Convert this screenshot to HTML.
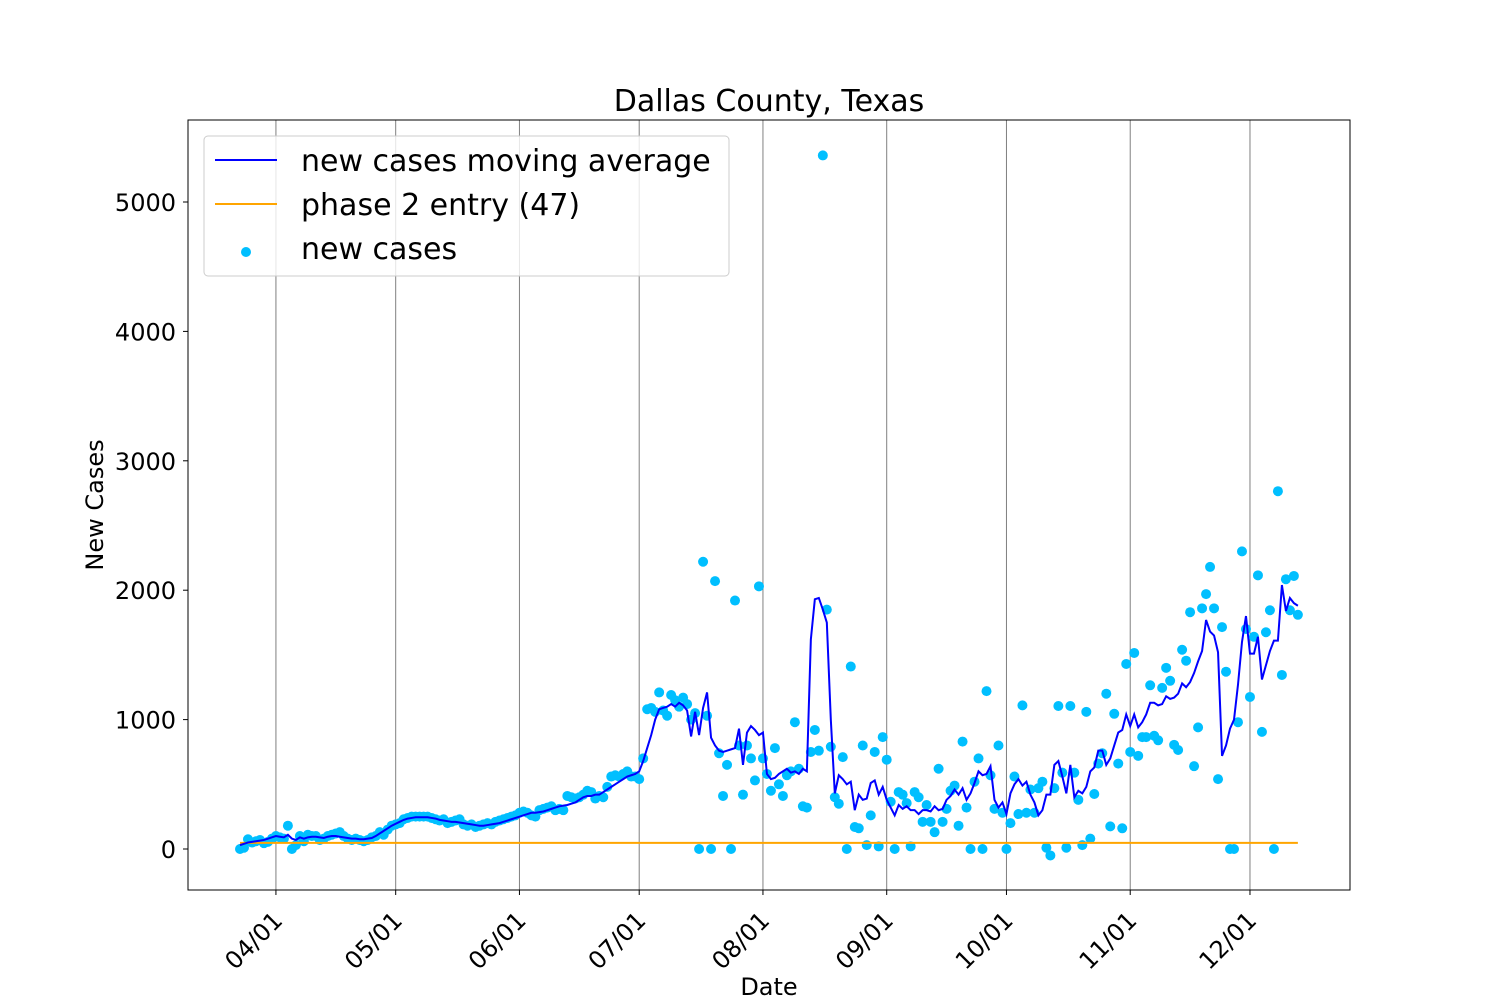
<!DOCTYPE html>
<html><head><meta charset="utf-8"><style>
body{margin:0;background:#fff;}
svg{display:block;font-family:"DejaVu Sans","Liberation Sans",sans-serif;}
</style></head><body>
<svg id="chart" width="1500" height="1000" xmlns="http://www.w3.org/2000/svg">
<rect x="0" y="0" width="1500" height="1000" fill="#fff"/>
<text x="769" y="111" font-size="30" text-anchor="middle">Dallas County, Texas</text>
<text transform="translate(103,505) rotate(-90)" font-size="24" text-anchor="middle">New Cases</text>
<text x="769" y="995" font-size="24" text-anchor="middle">Date</text>
<g id="grid"></g><g id="series"></g><g id="axes"></g>
<g>
<rect x="204" y="136" width="525" height="140" rx="4" fill="#fff" fill-opacity="0.8" stroke="#ccc"/>
<line x1="215" y1="160" x2="277" y2="160" stroke="#0000ff" stroke-width="2"/>
<text x="301" y="171" font-size="30">new cases moving average</text>
<line x1="215" y1="204" x2="277" y2="204" stroke="#ffa500" stroke-width="2"/>
<text x="301" y="215" font-size="30">phase 2 entry (47)</text>
<circle cx="246" cy="252" r="5" fill="#00bfff"/>
<text x="301" y="259" font-size="30">new cases</text>
</g>
</svg>
<script>
const tickLabels=["04/01","05/01","06/01","07/01","08/01","09/01","10/01","11/01","12/01"];
const tickDays=[9,39,70,100,131,162,192,223,253];
const yTicks=[0,1000,2000,3000,4000,5000];
const phase2=47;
const newCases=[0,10,75,50,60,70,45,55,80,
100,90,80,180,0,30,100,60,110,100,100,70,80,100,110,120,130,100,80,70,80,70,60,70,90,100,130,110,150,180,
190,200,230,240,250,250,250,250,250,240,230,220,230,200,210,220,230,190,180,190,170,180,190,200,190,210,220,230,240,250,260,
280,290,280,260,250,300,310,320,330,300,310,300,410,400,390,400,420,450,440,390,410,400,480,560,570,560,580,600,560,560,
540,700,1080,1090,1060,1210,1070,1030,1190,1150,1100,1170,1120,1000,1050,0,2220,1030,0,2070,740,410,650,0,1920,800,420,800,700,530,2030,
700,580,450,780,500,410,570,600,980,620,330,320,750,920,760,5360,1850,790,400,350,710,0,1410,170,160,800,30,260,750,20,
865,690,365,0,440,420,355,20,440,400,210,340,210,130,620,210,310,450,490,180,830,320,0,520,700,0,1220,570,310,800,280,0,
200,560,270,1110,280,460,280,470,520,10,-50,470,1105,590,10,1105,590,380,30,1060,80,425,660,740,1200,175,1045,660,160,1430,750,
1515,720,865,865,1265,875,840,1245,1400,1300,805,765,1540,1455,1830,640,940,1860,1970,2180,1860,540,1715,1370,0,0,980,2300,1700,1175,1640,2115,905,1675,1845,0,2765,1345,2085,1845,2110,1810];
const movingAvg=[30,40,50,55,60,65,70,80,90,
100,95,90,110,80,70,90,80,90,95,95,90,85,95,100,100,95,90,85,80,80,75,75,80,85,100,120,140,160,180,
195,210,225,235,240,245,245,245,245,240,235,225,220,215,210,210,205,200,195,190,185,180,180,185,190,195,200,210,220,230,240,
250,260,270,280,280,285,290,300,310,320,330,335,340,350,360,380,400,410,410,420,420,440,460,480,500,520,540,560,570,580,
600,680,780,880,1000,1080,1090,1100,1120,1100,1130,1110,1070,870,1060,880,1090,1210,860,800,760,750,760,770,780,930,650,900,950,920,880,
900,580,540,550,580,600,620,590,600,580,620,600,1620,1930,1940,1850,1750,1000,430,570,540,500,520,300,420,380,390,510,530,420,
480,380,320,260,340,310,330,300,300,270,300,300,290,330,300,310,380,410,460,420,470,380,430,510,600,570,580,640,380,320,360,270,
430,500,540,490,520,420,360,260,300,420,420,650,680,560,430,650,400,450,430,480,600,630,760,760,650,700,800,900,920,1040,950,
1040,940,980,1040,1130,1130,1110,1120,1180,1160,1170,1200,1280,1250,1290,1360,1450,1530,1770,1680,1650,1520,720,800,930,1000,1270,1600,1800,1510,1510,1640,1310,1420,1530,1610,1610,2040,1840,1940,1900,1880];

const NS="http://www.w3.org/2000/svg";
const L=188,R=1350,T=120,B=890;
const xS=d=>240+d*3.992;
const yS=v=>849-v*0.1294;
function mk(tag,attrs,parent){const e=document.createElementNS(NS,tag);for(const k in attrs)e.setAttribute(k,attrs[k]);parent.appendChild(e);return e;}
const grid=document.getElementById('grid'),series=document.getElementById('series'),axes=document.getElementById('axes');
tickDays.forEach((d,i)=>{
  const x=xS(d);
  const g=mk('line',{x1:x,y1:T,x2:x,y2:B,stroke:'#808080','stroke-width':1},grid);
  
  
  const t=mk('line',{x1:x,y1:B,x2:x,y2:B+5,stroke:'#000'},axes);
  
  
  const lb=mk('text',{transform:`translate(${x+8},${B+32}) rotate(-45)`,'font-size':24,'text-anchor':'end'},axes);
  lb.textContent=tickLabels[i];
  
  
});
yTicks.forEach(v=>{
  const y=yS(v);
  const t=mk('line',{x1:L-5,y1:y,x2:L,y2:y,stroke:'#000'},axes);
  
  
  const lb=mk('text',{x:L-12,y:y+9,'font-size':24,'text-anchor':'end'},axes);
  lb.textContent=v;
  
  
});
const frame=mk('rect',{x:L,y:T,width:R-L,height:B-T,fill:'none',stroke:'#000','stroke-width':1},axes);


newCases.forEach((v,d)=>{
  const c=mk('circle',{cx:xS(d),cy:yS(v),r:5,fill:'#00bfff'},series);
  
  
});
const ph=mk('line',{x1:xS(0),y1:yS(phase2),x2:xS(newCases.length-1),y2:yS(phase2),stroke:'#ffa500','stroke-width':2},series);


const ma=mk('polyline',{points:movingAvg.map((v,d)=>xS(d)+','+yS(v)).join(' '),fill:'none',stroke:'#0000ff','stroke-width':2},series);


</script>
</body></html>
